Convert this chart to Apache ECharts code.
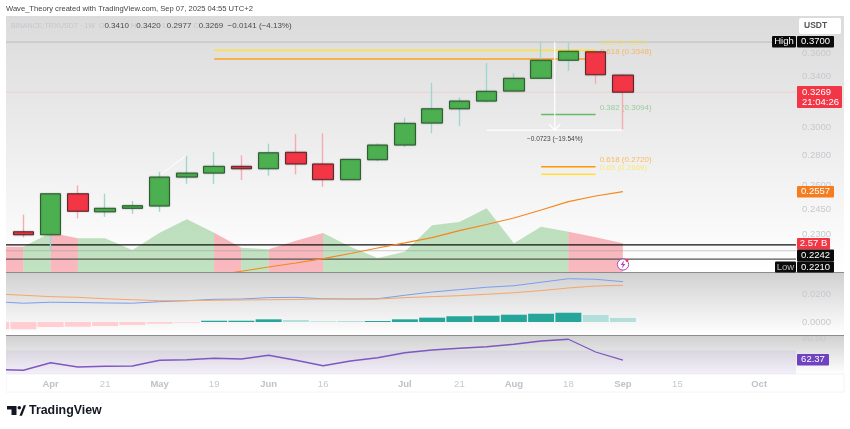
<!DOCTYPE html>
<html>
<head>
<meta charset="utf-8">
<style>html,body{margin:0;padding:0;background:#fff;overflow:hidden}#chart{position:absolute;left:-18px;top:0;width:868px;height:429px}</style>
<script src="https://cdn.jsdelivr.net/npm/echarts@6/dist/echarts.min.js"></script>
</head>
<body>
<div id="chart"></div>
<script>
// weekly bars, first one sits off the left edge of the panel (canvas is pushed 18px left for it)
var weeks = ['03-24','03-31','04-07','04-14','04-21','04-28','05-05','05-12','05-19','05-26','06-02','06-09','06-16','06-23','06-30','07-07','07-14','07-21','07-28','08-04','08-11','08-18','08-25','09-01','09-08','09-15','09-22','09-29','10-06','10-13','10-20'];
var tickLabels = ['','','Apr','','21','','May','','19','','Jun','','16','','','Jul','','21','','Aug','','18','','Sep','','15','','','Oct','',''];
var boldLabels = ['Apr','May','Jun','Jul','Aug','Sep','Oct'];

// open, close, low, high, starting at weeks[1]
var ohlc = [
  [0.2316,0.2299,0.2284,0.2416],
  [0.2299,0.2544,0.2210,0.2544],
  [0.2544,0.2436,0.2394,0.2597],
  [0.2433,0.2454,0.2403,0.2544],
  [0.2454,0.2470,0.2421,0.2499],
  [0.2468,0.2651,0.2433,0.2686],
  [0.2651,0.2677,0.2608,0.2799],
  [0.2677,0.2722,0.2606,0.2820],
  [0.2722,0.2706,0.2632,0.2797],
  [0.2706,0.2815,0.2660,0.2879],
  [0.2818,0.2738,0.2669,0.2948],
  [0.2738,0.2634,0.2588,0.2953],
  [0.2634,0.2769,0.2634,0.2769],
  [0.2767,0.2869,0.2758,0.2881],
  [0.2869,0.3027,0.2855,0.3069],
  [0.3029,0.3138,0.2955,0.3346],
  [0.3138,0.3198,0.3007,0.3228],
  [0.3198,0.3276,0.3188,0.3513],
  [0.3278,0.3383,0.3276,0.3425],
  [0.3383,0.3537,0.3383,0.3703],
  [0.3537,0.3616,0.3447,0.3691],
  [0.3612,0.3413,0.3338,0.3612],
  [0.3410,0.3269,0.2977,0.3420]
];
var volume = [2.26,2.26,3.52,3.02,3.02,1.97,3.52,4.72,3.52,2.17,2.03,2.80,3.49,2.26,1.25,1.82,4.18,4.48,5.70,2.57,4.05,3.61,3.11,2.57];
// [first week, last week] of each coloured stretch of the volume area
var volumeDown = [[0,1],[2,3],[8,9],[10,12],[21,23]];
var volumeUp = [[1,2],[3,8],[9,10],[12,21]];
var ema = ['-','-','-','-','-','-','-','-',0.2079,0.2101,0.2123,0.2144,0.2167,0.2195,0.2225,0.2253,0.2283,0.2323,0.2358,0.2396,0.2444,0.2495,0.2530,0.2557];

var macd = [0.0145,0.0134,0.0141,0.0139,0.0136,0.0134,0.0145,0.0152,0.0162,0.0164,0.0174,0.0176,0.0166,0.0164,0.0166,0.0191,0.0214,0.0231,0.0248,0.0259,0.0284,0.0309,0.0305,0.0288];
var signal = [0.0200,0.0191,0.0181,0.0176,0.0166,0.0159,0.0152,0.0152,0.0155,0.0157,0.0159,0.0161,0.0164,0.0164,0.0164,0.0174,0.0181,0.0188,0.0198,0.0209,0.0224,0.0243,0.0257,0.0262];
var hist = [-0.0052,-0.0052,-0.0036,-0.0034,-0.0029,-0.0021,-0.0012,-0.0005,0.0009,0.0009,0.0019,0.0014,0.0005,0.0007,0.0007,0.0019,0.0031,0.0041,0.0045,0.0052,0.0059,0.0066,0.0050,0.0029];
var fadedWeeks = [11,12,13,22,23];
var rsi = [54.8,54.2,60.2,56.8,57.4,57.6,62.2,62.6,63.8,63.2,66.2,62.2,57.8,61.6,64.2,68.2,70.4,71.8,73.0,75.0,77.6,79.0,68.8,62.37];

var priceTicks = [0.36,0.34,0.30,0.28,0.26,0.245,0.23];
var macdTicks = [0,0.02];
var rsiTicks = [80];

var fibLabels = ['0.65 (0.3627)','0.618 (0.3548)','0.382 (0.3094)','0.618 (0.2720)','0.65 (0.2669)'];
var fibValues = [0.3627,0.3548,0.3094,0.2720,0.2669];
var fibStart = [8,8,20,20,20];
var fibColors = ['#ffe135','#ff9f1a','#66bb6a','#ff9800','#ffe135'];
var fibEnd = 22;

var font = 'Liberation Sans';
var chart = echarts.init(document.getElementById('chart'));
var grad = function(stops){ return new echarts.graphic.LinearGradient(0,0,0,1,stops); };
var axisGray = '#c6c9ce';

var series = [];
function areaRun(run, color){
  series.push({type:'line',xAxisIndex:0,yAxisIndex:1,z:1,symbol:'none',silent:true,
    lineStyle:{width:0},areaStyle:{color:color,opacity:1,origin:'start'},
    data:volume.map(function(v,i){return i>=run[0]&&i<=run[1]?v:'-';})});
}
volumeDown.forEach(function(r){areaRun(r,'rgba(242,54,69,0.35)');});
volumeUp.forEach(function(r){areaRun(r,'rgba(76,175,80,0.35)');});

// horizontal rules on the hidden week-number axis
function rule(value, color, type, width){
  series.push({type:'line',xAxisIndex:3,yAxisIndex:0,z:2,symbol:'none',silent:true,
    lineStyle:{color:color,type:type,width:width},data:[[-0.5,value],[29.35,value]]});
}
rule(0.37,'#9a9a9a','dotted',1);
rule(0.3269,'#f4b9bd','dotted',1);
rule(0.2242,'#111111','solid',1.2);
rule(0.2210,'#9a9a9a','dotted',1);
rule(0.2165,'#555555','solid',1.4);

series.push({type:'line',xAxisIndex:0,yAxisIndex:0,z:2,symbol:'none',data:ema,lineStyle:{color:'#f5861f',width:1.2}});

fibValues.forEach(function(v,i){
  series.push({type:'line',xAxisIndex:3,yAxisIndex:0,z:3,symbol:'none',silent:true,
    lineStyle:{color:fibColors[i],width:1.5},
    data:[[fibStart[i],v],[fibEnd,v]],
    endLabel:{show:true,formatter:fibLabels[i],color:fibColors[i],opacity:0.6,fontFamily:font,fontSize:8,offset:[-4,-7]}});
});

// wicks first, bodies on top
var ups = '#9fd6cf', downs = '#f6abb1';
var blank = ['-','-','-','-'];
series.push({type:'candlestick',xAxisIndex:0,yAxisIndex:0,z:4,barWidth:1,
  itemStyle:{color:ups,color0:downs,borderColor:ups,borderColor0:downs,borderWidth:1.4},
  data:[blank].concat(ohlc)});
series.push({type:'candlestick',xAxisIndex:0,yAxisIndex:0,z:5,barWidth:21,
  itemStyle:{color:'#4caf50',color0:'#f23645',borderColor:'#2e5f33',borderColor0:'#5a2a2e',borderWidth:1,shadowBlur:1.5,shadowColor:'rgba(0,0,0,0.35)'},
  data:[blank].concat(ohlc.map(function(d){return [d[0],d[1],Math.min(d[0],d[1]),Math.max(d[0],d[1])];}))});

// measuring tool
series.push({type:'line',xAxisIndex:3,yAxisIndex:0,z:6,symbol:'none',silent:true,
  lineStyle:{color:'#fff',width:1.2},data:[[18,0.2977],[23,0.2977]]});
series.push({type:'line',xAxisIndex:3,yAxisIndex:0,z:6,silent:true,
  symbol:function(v,p){return p.dataIndex===1?'path://M0 0L10 10L20 0':'none';},symbolSize:[11,6],symbolOffset:[0,-3],
  itemStyle:{color:'rgba(0,0,0,0)',borderColor:'#fff',borderWidth:1.2},
  lineStyle:{color:'#fff',width:1.2},
  data:[[20.5,0.37],{value:[20.5,0.2977],label:{show:true,position:'bottom',distance:5,formatter:'\u22120.0723 (\u221219.54%)',color:'#444',fontFamily:font,fontSize:6.5}}]});
series.push({type:'line',xAxisIndex:3,yAxisIndex:0,z:6,symbol:'none',silent:true,
  lineStyle:{color:'#fff',width:1},data:[[6.05,0.2671],[7,0.2799]]});

series.push({type:'line',xAxisIndex:1,yAxisIndex:2,z:3,symbol:'none',data:macd,lineStyle:{color:'#7c9df0',width:1}});
series.push({type:'line',xAxisIndex:1,yAxisIndex:2,z:3,symbol:'none',data:signal,lineStyle:{color:'#f4a768',width:1}});
series.push({type:'bar',xAxisIndex:1,yAxisIndex:2,z:2,barWidth:26,
  data:hist.map(function(v,i){
    var c = v<0 ? '#ffcdd2' : (fadedWeeks.indexOf(i)>=0 ? '#b2dfdb' : '#26a69a');
    return {value:v,itemStyle:{color:c}};
  })});
series.push({type:'line',xAxisIndex:2,yAxisIndex:3,z:3,symbol:'none',data:rsi,lineStyle:{color:'#7e57c2',width:1.3}});

// pane backgrounds and all the badge labels, x given in page pixels
var shift = 18;
function badge(x,y,w,h,text,bg,color){
  return [
    {type:'rect',z:60,shape:{x:x,y:y,width:w,height:h,r:1},style:{fill:bg}},
    {type:'text',z:61,x:x+w/2,y:y+h/2,style:{text:text,fill:color||'#fff',font:'9.5px "'+font+'"',align:'center',verticalAlign:'middle'}}
  ];
}
var dim = '#c5c7cc', dark = '#4a4a4a';
var elements = [
  {type:'rect',z:-10,shape:{x:6,y:16,width:838,height:256},style:{fill:grad([{offset:0,color:'#dbdbdb'},{offset:1,color:'#ffffff'}])}},
  {type:'rect',z:-10,shape:{x:6,y:272,width:838,height:63},style:{fill:grad([{offset:0,color:'#d0d0d0'},{offset:1,color:'#ffffff'}])}},
  {type:'rect',z:-10,shape:{x:6,y:335,width:838,height:39},style:{fill:grad([{offset:0,color:'#cfcfcf'},{offset:1,color:'#ffffff'}])}},
  {type:'rect',z:-9,shape:{x:6,y:350.5,width:790,height:23.5},style:{fill:'rgba(126,87,194,0.09)'}},
  {type:'rect',z:-10,shape:{x:6,y:374,width:838,height:18},style:{fill:'#fff',stroke:'#f4f4f4'}},
  // mask for the part of the first bars past the panel edge
  {type:'rect',z:50,shape:{x:-18,y:0,width:24,height:429},style:{fill:'#fff'}},
  {type:'line',z:50,shape:{x1:6,y1:272.5,x2:844,y2:272.5},style:{stroke:'#8c8c8c',lineWidth:1}},
  {type:'line',z:50,shape:{x1:6,y1:335.5,x2:844,y2:335.5},style:{stroke:'#8c8c8c',lineWidth:1}},
  {type:'text',z:60,x:6,y:9,style:{text:'Wave_Theory created with TradingView.com, Sep 07, 2025 04:55 UTC+2',fill:'#444',font:'7.6px "'+font+'"',verticalAlign:'middle'}},
  {type:'text',z:60,x:11,y:26,style:{
    text:'{d|BINANCE:TRXUSDT \u00b7 1W  O}{n|0.3410 }{d|H}{n|0.3420 }{d|L}{n|0.2977 }{d|C}{n|0.3269  }{n|\u22120.0141 (\u22124.13%)}',
    verticalAlign:'middle',
    rich:{d:{fill:dim,font:'7.1px "'+font+'"'},n:{fill:dark,font:'8px "'+font+'"'}}}},
  {type:'rect',z:60,shape:{x:799,y:18,width:42,height:16,r:2},style:{fill:'#fff'}},
  {type:'text',z:61,x:804,y:26,style:{text:'USDT',fill:'#555',font:'600 8.5px "'+font+'"',verticalAlign:'middle'}},
  {type:'circle',z:60,shape:{cx:623,cy:264.5,r:5.6},style:{fill:'#fff',stroke:'#ab47bc',lineWidth:1}},
  {type:'polygon',z:61,shape:{points:[[624,260.5],[620.6,265],[622.8,265],[622,268.5],[625.4,264],[623.2,264]]},style:{fill:'#ab47bc'}},
  {type:'circle',z:62,shape:{cx:627,cy:260.5,r:1.4},style:{fill:'#f23645'}},
  // TradingView logo
  {type:'polygon',z:60,shape:{points:[[7,406],[16.5,406],[16.5,415],[11.5,415],[11.5,409.5],[7,409.5]]},style:{fill:'#131722'}},
  {type:'circle',z:60,shape:{cx:19.3,cy:407.8,r:1.8},style:{fill:'#131722'}},
  {type:'polygon',z:60,shape:{points:[[20.5,415],[24.2,406],[25,406],[25,406],[21.5,415]]},style:{fill:'#131722',stroke:'#131722',lineWidth:1.4}},
  {type:'text',z:60,x:29,y:411,style:{text:'TradingView',fill:'#131722',font:'600 12.4px "'+font+'"',verticalAlign:'middle'}}
];
elements = elements.concat(
  badge(772,36,24,11.5,'High','#0b0b0b'),
  badge(797,36,37,11.5,'0.3700','#0b0b0b'),
  [{type:'rect',z:60,shape:{x:797,y:86,width:45,height:22,r:1},style:{fill:'#f23645'}},
   {type:'text',z:61,x:802,y:92.5,style:{text:'0.3269',fill:'#fff',font:'9.5px "'+font+'"',verticalAlign:'middle'}},
   {type:'text',z:61,x:802,y:102,style:{text:'21:04:26',fill:'#fff',font:'9.5px "'+font+'"',verticalAlign:'middle'}}],
  badge(797,186,37,11.5,'0.2557','#f57c1f'),
  badge(797,238,33,11.5,'2.57 B','#f23645'),
  badge(797,249.5,37,12,'0.2242','#0b0b0b'),
  badge(775,261.5,21,11,'Low','#0b0b0b','#bbb'),
  badge(797,261.5,37,11,'0.2210','#0b0b0b'),
  badge(797,354,32,11.5,'62.37','#6f42c1')
);
// move to canvas coordinates
elements.forEach(function(el){
  if(el.shape && el.shape.points) el.shape.points = el.shape.points.map(function(p){return [p[0]+shift,p[1]];});
  else if(el.shape && el.shape.x1 != null){ el.shape.x1 += shift; el.shape.x2 += shift; }
  else if(el.shape && el.shape.cx != null) el.shape.cx += shift;
  else if(el.shape) el.shape.x += shift;
  else el.x += shift;
});

var gridLeft = 0.5, gridWidth = 844.75, axisOffset = -31.25;
function hiddenCat(g){ return {type:'category',gridIndex:g,data:weeks,show:false}; }
function sideLabels(ticks, digits){
  return {show:true,customValues:ticks,color:axisGray,fontFamily:font,fontSize:9.5,margin:6,
    formatter:function(v){return (+v).toFixed(digits);}};
}

chart.setOption({
  animation:false,
  backgroundColor:'#fff',
  tooltip:{show:false},
  graphic:{elements:elements},
  grid:[
    {left:gridLeft,width:gridWidth,top:16,height:256},
    {left:gridLeft,width:gridWidth,top:272,height:63},
    {left:gridLeft,width:gridWidth,top:335,height:39}
  ],
  xAxis:[
    hiddenCat(0),
    hiddenCat(1),
    {type:'category',gridIndex:2,data:weeks,axisLine:{show:false},axisTick:{show:false},splitLine:{show:false},
     axisLabel:{interval:0,margin:5,fontFamily:font,fontSize:9.5,color:axisGray,
       formatter:function(v,i){
         var t = tickLabels[i];
         if(!t) return '';
         return boldLabels.indexOf(t)>=0 ? '{b|'+t+'}' : t;
       },
       rich:{b:{fontWeight:600,color:'#bfc2c8',fontFamily:font,fontSize:9.5}}}},
    {type:'value',gridIndex:0,min:-0.5,max:30.5,show:false,splitLine:{show:false}}
  ],
  yAxis:[
    {type:'log',gridIndex:0,logBase:10,min:0.2097,max:0.3946,position:'right',offset:axisOffset,
     axisLine:{show:false},axisTick:{show:false},splitLine:{show:false},minorTick:{show:false},minorSplitLine:{show:false},
     axisLabel:sideLabels(priceTicks,4)},
    {type:'value',gridIndex:0,min:0,max:22.9,show:false,splitLine:{show:false}},
    {type:'value',gridIndex:1,min:-0.0093,max:0.0357,position:'right',offset:axisOffset,
     axisLine:{show:false},axisTick:{show:false},splitLine:{show:false},axisLabel:sideLabels(macdTicks,4)},
    {type:'value',gridIndex:2,min:51.2,max:82.4,position:'right',offset:axisOffset,
     axisLine:{show:false},axisTick:{show:false},splitLine:{show:false},axisLabel:sideLabels(rsiTicks,2)}
  ],
  series:series
});
</script>
</body>
</html>
